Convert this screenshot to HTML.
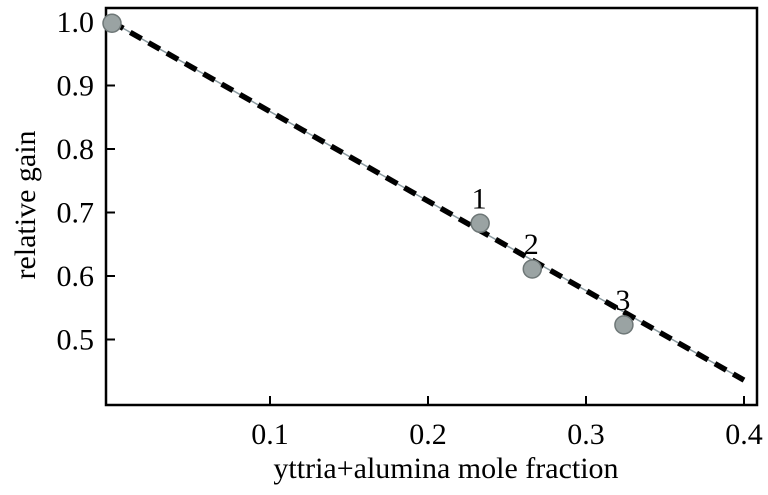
<!DOCTYPE html>
<html><head><meta charset="utf-8"><style>
body{margin:0;background:#fff;width:768px;height:490px;overflow:hidden}
text{font-family:"Liberation Serif",serif;fill:#000}
</style></head><body>
<svg id="chart" width="768" height="490" xmlns="http://www.w3.org/2000/svg">
<rect x="106" y="8" width="651" height="397" fill="none" stroke="#000" stroke-width="2.5"/>
<g id="axes"></g>
<g id="marks"></g>
<text x="446" y="478" font-size="30" text-anchor="middle">yttria+alumina mole fraction</text>
<text transform="translate(35,205) rotate(-90)" font-size="30" text-anchor="middle">relative gain</text>
</svg>
<script>
const xTicks=[0.1,0.2,0.3,0.4];
const yTicks=[0.5,0.6,0.7,0.8,0.9,1.0];
const fitX=[0,0.4];
const fitY=[1.0,0.436];
const ptX=[0,0.233,0.266,0.324];
const ptY=[0.998,0.683,0.611,0.523];
const ptLabels=["","1","2","3"];
const X=v=>112+v*1580, Y=v=>22+(1-v)*635;
const NS="http://www.w3.org/2000/svg";
const ax=document.getElementById('axes'), mk=document.getElementById('marks');
function mkEl(t,a,p){const e=document.createElementNS(NS,t);for(const k in a)e.setAttribute(k,a[k]);p.appendChild(e);return e;}
xTicks.forEach(v=>{
 const t=mkEl('line',{x1:X(v),x2:X(v),y1:405,y2:396,stroke:'#000','stroke-width':2},ax);
 
 
 const l=mkEl('text',{x:X(v),y:444,'font-size':30,'text-anchor':'middle'},ax);l.textContent=v.toFixed(1);
 
 
});
yTicks.forEach(v=>{
 const t=mkEl('line',{x1:106,x2:115,y1:Y(v),y2:Y(v),stroke:'#000','stroke-width':2},ax);
 
 
 const l=mkEl('text',{x:94,y:Y(v)+10,'font-size':30,'text-anchor':'end'},ax);l.textContent=v.toFixed(1);
 
 
});
const g=mkEl('line',{x1:X(fitX[0]),y1:Y(fitY[0]),x2:X(fitX[1]),y2:Y(fitY[1]),stroke:'#8a9aa0','stroke-width':1.5},mk);


const d=mkEl('line',{x1:X(fitX[0]),y1:Y(fitY[0]),x2:X(fitX[1]),y2:Y(fitY[1]),stroke:'#000','stroke-width':5.5,'stroke-dasharray':'13 8'},mk);


ptX.forEach((v,i)=>{
 const c=mkEl('circle',{cx:X(v),cy:Y(ptY[i]),r:9,fill:'#9aa3a3',stroke:'#6e7777','stroke-width':1.5},mk);
 
 
 if(ptLabels[i]){const l=mkEl('text',{x:X(v)-1,y:Y(ptY[i])-15,'font-size':30,'text-anchor':'middle'},mk);l.textContent=ptLabels[i];
 
 }
});
</script>
</body></html>
